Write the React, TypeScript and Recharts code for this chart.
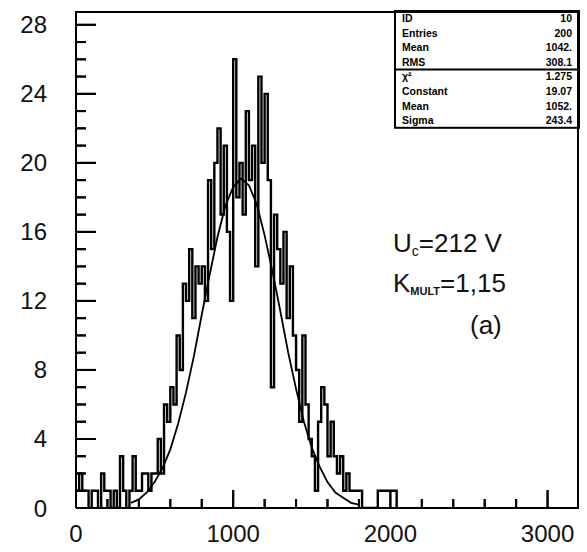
import React from 'react';
import { ComposedChart, Line, Scatter, XAxis, YAxis } from 'recharts';

// Histogram: bin width 20, counts per bin starting at 0
const BIN_WIDTH = 20;
const counts = [
  1, 2, 1, 1, 0, 1, 1, 0, 2, 1,
  1, 0, 1, 0, 3, 1, 0, 1, 3, 1,
  1, 2, 2, 1, 2, 2, 4, 2, 6, 5,
  7, 6, 10, 8, 13, 12, 15, 11, 14, 13,
  14, 12, 19, 15, 20, 22, 17, 21, 16, 12,
  26, 18, 20, 17, 23, 19, 21, 14, 25, 20,
  24, 19, 7, 17, 15, 13, 16, 11, 14, 10,
  8, 5, 10, 6, 4, 3, 1, 5, 7, 6,
  3, 5, 3, 2, 3, 1, 2, 1, 1, 1,
  1, 0, 0, 0, 0, 0, 1, 1, 1, 1,
  1, 1,
];

// Fitted curve points (x, value)
const fitX = [350, 400, 450, 500, 550, 600, 650, 700, 750, 800, 850, 900, 950, 1000, 1050,
  1100, 1150, 1200, 1250, 1300, 1350, 1400, 1450, 1500, 1550, 1600, 1650, 1700, 1750, 1800];
const fitY = [0.3, 0.5, 0.9, 1.5, 2.3, 3.4, 4.9, 6.7, 8.8, 11.2, 13.5, 15.7, 17.5, 18.6, 19.1,
  18.7, 17.6, 15.8, 13.7, 11.4, 9.0, 6.9, 5.0, 3.5, 2.4, 1.5, 0.9, 0.6, 0.3, 0.2];

// axis labels
const yLabels = [0, 4, 8, 12, 16, 20, 24, 28];
const xLabels = [0, 1000, 2000, 3000];
// inward tick marks
const yMajorMarks = [4, 8, 12, 16, 20, 24, 28];
const yMinorMarks = [1, 2, 3, 5, 6, 7, 9, 10, 11, 13, 14, 15, 17, 18, 19, 21, 22, 23, 25, 26, 27];
const xMajorMarks = [1000, 2000, 3000];
const xMinorMarks = [200, 400, 600, 800, 1200, 1400, 1600, 1800, 2200, 2400, 2600, 2800];

const statsTop = [
  ['ID', '10'],
  ['Entries', '200'],
  ['Mean', '1042.'],
  ['RMS', '308.1'],
];
const statsFit = [
  ['χ²', '1.275'],
  ['Constant', '19.07'],
  ['Mean', '1052.'],
  ['Sigma', '243.4'],
];

const X_MAX = 3200;
const Y_MAX = 28.8;
const W = 587;
const H = 552;
const M = { top: 11, right: 8, left: 0, bottom: 0 };
const Y_AXIS_W = 76;
const X_AXIS_H = 44;
const PLOT_L = M.left + Y_AXIS_W;
const PLOT_T = M.top;
const PLOT_W = W - M.left - M.right - Y_AXIS_W;
const PLOT_H = H - M.top - M.bottom - X_AXIS_H;
const px = (v: number) => PLOT_L + (v / X_MAX) * PLOT_W;
const py = (v: number) => PLOT_T + PLOT_H - (v / Y_MAX) * PLOT_H;

const histData = counts.map((c, i) => ({ x: i * BIN_WIDTH, y: c }));
histData.push({ x: counts.length * BIN_WIDTH, y: 0 });
const fitData = fitX.map((x, i) => ({ x, y: fitY[i] }));
// top and right edges of the frame
const frameData = [
  { x: 0, y: Y_MAX },
  { x: X_MAX, y: Y_MAX },
  { x: X_MAX, y: 0 },
];
const onY = (vals: number[]) => vals.map((v) => ({ x: 0, y: v }));
const onX = (vals: number[]) => vals.map((v) => ({ x: v, y: 0 }));

const FONT = '"Liberation Sans", Arial, sans-serif';
const FRAME = { stroke: '#000', strokeWidth: 2 };
const LABEL = { fontFamily: FONT, fontSize: 24, fill: '#111' };

const YMajor = (props: any) => (
  <line x1={props.cx} x2={props.cx + 20} y1={props.cy} y2={props.cy} stroke="#000" strokeWidth={2} />
);
const YMinor = (props: any) => (
  <line x1={props.cx} x2={props.cx + 10} y1={props.cy} y2={props.cy} stroke="#000" strokeWidth={2} />
);
const XMajor = (props: any) => (
  <line x1={props.cx} x2={props.cx} y1={props.cy} y2={props.cy - 18} stroke="#000" strokeWidth={2} />
);
const XMinor = (props: any) => (
  <line x1={props.cx} x2={props.cx} y1={props.cy} y2={props.cy - 9} stroke="#000" strokeWidth={2} />
);

export default function App() {
  const boxL = 395;
  const boxR = 579;
  const boxT = 11;
  const rowH = 14.6;
  return (
    <div style={{ position: 'absolute', left: 0, top: 0, width: W, height: H, background: '#fff' }}>
      {/* background layer: stats box, annotations and axis tick marks */}
      <svg width={W} height={H} style={{ position: 'absolute', left: 0, top: 0 }}>
        {yMajorMarks.map((v) => (
          <line key={'ym' + v} x1={PLOT_L} x2={PLOT_L + 20} y1={py(v)} y2={py(v)} stroke="#000" strokeWidth={2} />
        ))}
        {yMinorMarks.map((v) => (
          <line key={'yn' + v} x1={PLOT_L} x2={PLOT_L + 10} y1={py(v)} y2={py(v)} stroke="#000" strokeWidth={2} />
        ))}
        {xMajorMarks.map((v) => (
          <line key={'xm' + v} x1={px(v)} x2={px(v)} y1={py(0)} y2={py(0) - 18} stroke="#000" strokeWidth={2} />
        ))}
        {xMinorMarks.map((v) => (
          <line key={'xn' + v} x1={px(v)} x2={px(v)} y1={py(0)} y2={py(0) - 9} stroke="#000" strokeWidth={2} />
        ))}
        <rect x={boxL} y={boxT} width={boxR - boxL} height={rowH * 8} fill="#fff" stroke="#000" strokeWidth={2} />
        <line x1={boxL} x2={boxR} y1={boxT + rowH * 4} y2={boxT + rowH * 4} stroke="#000" strokeWidth={2} />
        {[...statsTop, ...statsFit].map((r, i) => (
          <g key={i}>
            <text x={boxL + 7} y={boxT + rowH * i + 11} fontFamily={FONT} fontWeight="bold" fontSize={10.5} fill="#000">
              {r[0]}
            </text>
            <text x={boxR - 7} y={boxT + rowH * i + 11} textAnchor="end" fontFamily={FONT} fontWeight="bold" fontSize={10.5} fill="#000">
              {r[1]}
            </text>
          </g>
        ))}
        <text x={393} y={252} fontFamily={FONT} fontSize={26} fill="#111">
          U<tspan fontSize={14} dy={4}>c</tspan>
          <tspan dy={-4}>=212 V</tspan>
        </text>
        <text x={393} y={292} fontFamily={FONT} fontSize={26} fill="#111">
          K<tspan fontSize={11} fontWeight="bold" dy={3}>MULT</tspan>
          <tspan dy={-3}>=1,15</tspan>
        </text>
        <text x={470} y={334} fontFamily={FONT} fontSize={26} fill="#111">
          (a)
        </text>
      </svg>
      <ComposedChart width={W} height={H} margin={M}>
        <XAxis
          type="number"
          dataKey="x"
          domain={[0, X_MAX]}
          allowDataOverflow
          ticks={xLabels}
          interval={0}
          height={X_AXIS_H}
          tickSize={0}
          tickMargin={17}
          tickLine={false}
          axisLine={FRAME}
          tick={LABEL}
        />
        <YAxis
          type="number"
          domain={[0, Y_MAX]}
          allowDataOverflow
          ticks={yLabels}
          interval={0}
          width={Y_AXIS_W}
          tickSize={0}
          tickMargin={29}
          tickLine={false}
          axisLine={FRAME}
          tick={LABEL}
        />
        <Scatter data={onY(yMajorMarks)} dataKey="y" shape={<YMajor />} isAnimationActive={false} />
        <Scatter data={onY(yMinorMarks)} dataKey="y" shape={<YMinor />} isAnimationActive={false} />
        <Scatter data={onX(xMajorMarks)} dataKey="y" shape={<XMajor />} isAnimationActive={false} />
        <Scatter data={onX(xMinorMarks)} dataKey="y" shape={<XMinor />} isAnimationActive={false} />
        <Line
          data={frameData}
          dataKey="y"
          type="linear"
          stroke="#000"
          strokeWidth={4}
          dot={false}
          isAnimationActive={false}
        />
        <Line
          data={histData}
          dataKey="y"
          type="stepAfter"
          stroke="#000"
          strokeWidth={2.4}
          dot={false}
          isAnimationActive={false}
        />
        <Line
          data={fitData}
          dataKey="y"
          type="linear"
          stroke="#000"
          strokeWidth={1.8}
          dot={false}
          isAnimationActive={false}
        />
      </ComposedChart>
    </div>
  );
}
